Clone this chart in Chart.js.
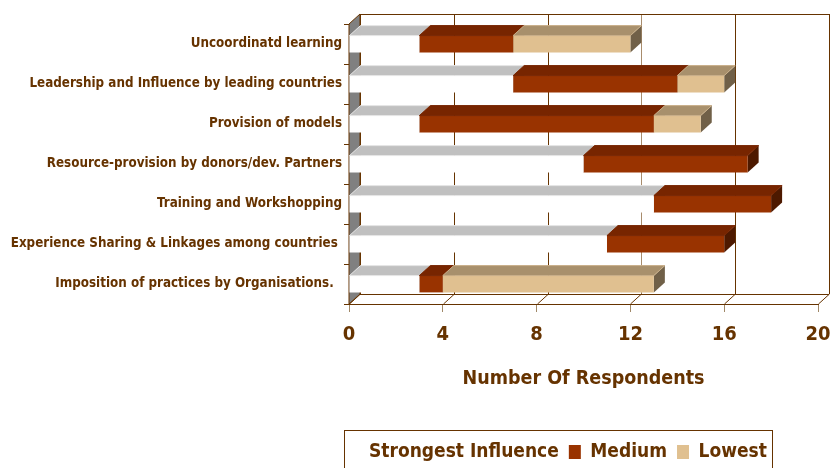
<!DOCTYPE html>
<html>
<head>
<meta charset="utf-8">
<script src="https://cdn.jsdelivr.net/npm/chart.js@4.4.1/dist/chart.umd.min.js"></script>
<style>
  html, body { margin: 0; padding: 0; background: #fff; }
</style>
</head>
<body>
<canvas id="chart" width="830" height="468"></canvas>
<script>
const categories = [
    'Uncoordinatd learning',
    'Leadership and Influence by leading countries',
    'Provision of models',
    'Resource-provision by donors/dev. Partners',
    'Training and Workshopping',
    'Experience Sharing & Linkages among countries ',
    'Imposition of practices by Organisations.  '
];
const strongest = [3, 7, 3, 10, 13, 11, 3];
const medium = [4, 7, 10, 7, 5, 5, 1];
const lowest = [5, 2, 2, 0, 0, 0, 9];
const xTicks = [0, 4, 8, 12, 16, 20];

const brown = '#663300';
const family = "'Liberation Sans Narrow', 'Arial Narrow', 'DejaVu Sans Condensed', sans-serif";
const depthX = 11;
const depthY = 10;

// top / side shading of each series (front colour is the dataset colour)
const faces = [
    { top: '#c0c0c0', side: '#a0a0a0', edge: '#e6e6e6' },
    { top: '#772500', side: '#4d1900', edge: '#772500' },
    { top: '#a8906c', side: '#706048', edge: '#c8ae88' }
];

function quad(ctx, pts) {
    ctx.beginPath();
    ctx.moveTo(pts[0][0], pts[0][1]);
    for (let i = 1; i < pts.length; i++) ctx.lineTo(pts[i][0], pts[i][1]);
    ctx.closePath();
}

function eachBar(chart, fn) {
    chart.data.datasets.forEach((ds, i) => {
        chart.getDatasetMeta(i).data.forEach((bar, j) => {
            if (!ds.data[j]) return;
            const p = bar.getProps(['x', 'y', 'base', 'height'], true);
            fn(i, p.base, p.x, p.y - p.height / 2, p.y + p.height / 2);
        });
    });
}

const box3d = {
    id: 'box3d',
    afterLayout(chart) {
        const lg = chart.legend;
        lg.left = 337.5;
        lg.right = 830;
        lg.top = 432.5;
        lg.bottom = 468;
        lg.width = lg.right - lg.left;
        lg.height = lg.bottom - lg.top;
    },
    beforeDatasetsDraw(chart) {
        const ctx = chart.ctx;
        const a = chart.chartArea;
        const xs = chart.scales.x;
        ctx.save();
        ctx.lineWidth = 1;

        // left wall
        ctx.fillStyle = '#808080';
        quad(ctx, [[a.left, a.top], [a.left + depthX, a.top - depthY], [a.left + depthX, a.bottom - depthY], [a.left, a.bottom]]);
        ctx.fill();
        ctx.strokeStyle = brown;
        ctx.stroke();

        // back wall grid + floor lines
        xTicks.forEach(v => {
            const px = Math.round(xs.getPixelForValue(v)) + 0.5;
            ctx.strokeStyle = v === 12 ? '#a88c6c' : brown;
            ctx.beginPath();
            ctx.moveTo(px + depthX, a.top - depthY);
            ctx.lineTo(px + depthX, a.bottom - depthY);
            ctx.stroke();
            ctx.strokeStyle = brown;
            ctx.beginPath();
            ctx.moveTo(px + depthX, a.bottom - depthY);
            ctx.lineTo(px, a.bottom);
            ctx.stroke();
        });
        ctx.strokeStyle = brown;
        ctx.beginPath();
        ctx.moveTo(a.left + depthX, a.top - depthY + 0.5);
        ctx.lineTo(a.right + depthX, a.top - depthY + 0.5);
        ctx.moveTo(a.left + depthX, a.bottom - depthY + 0.5);
        ctx.lineTo(a.right + depthX, a.bottom - depthY + 0.5);
        ctx.stroke();

        // right faces of the bars
        eachBar(chart, (i, x0, x1, t, b) => {
            ctx.fillStyle = faces[i].side;
            quad(ctx, [[x1, t], [x1 + depthX, t - depthY], [x1 + depthX, b - depthY], [x1, b]]);
            ctx.fill();
        });
        ctx.restore();
    },
    afterDatasetsDraw(chart) {
        const ctx = chart.ctx;
        ctx.save();
        ctx.lineWidth = 1;
        eachBar(chart, (i, x0, x1, t, b) => {
            ctx.fillStyle = faces[i].top;
            ctx.strokeStyle = faces[i].edge;
            quad(ctx, [[x0, t], [x0 + depthX, t - depthY], [x1 + depthX, t - depthY], [x1, t]]);
            ctx.fill();
            ctx.stroke();
        });
        ctx.restore();
    },
    afterDraw(chart) {
        const ctx = chart.ctx;
        ctx.save();
        ctx.strokeStyle = brown;
        ctx.lineWidth = 1;
        ctx.strokeRect(344.5, 430.5, 428, 60);
        ctx.restore();
    }
};

new Chart(document.getElementById('chart'), {
    type: 'bar',
    data: {
        labels: categories,
        datasets: [
            { label: 'Strongest Influence', data: strongest, backgroundColor: '#ffffff' },
            { label: 'Medium', data: medium, backgroundColor: '#993300' },
            { label: 'Lowest', data: lowest, backgroundColor: '#e0c090' }
        ]
    },
    options: {
        indexAxis: 'y',
        responsive: false,
        animation: false,
        datasets: {
            bar: { barPercentage: 1, categoryPercentage: 0.42, borderWidth: 0 }
        },
        layout: { padding: { left: 0, right: 12, top: 24, bottom: 38 } },
        scales: {
            x: {
                stacked: true,
                min: 0,
                max: 20,
                ticks: { stepSize: 4, color: brown, padding: 11, font: { family: family, size: 20, weight: 'bold' } },
                grid: { display: true, drawOnChartArea: false, drawTicks: true, tickLength: 8, color: '#a08868' },
                border: { display: true, color: brown },
                title: {
                    display: true,
                    text: 'Number Of Respondents',
                    color: brown,
                    padding: 0,
                    font: { family: family, size: 19.5, weight: 'bold' }
                },
                afterFit: s => {
                    s.height = 87;
                    s.paddingLeft = 0;
                    s.paddingRight = 0;
                }
            },
            y: {
                stacked: true,
                ticks: { color: brown, padding: 2, autoSkip: false, font: { family: family, size: 13.3, weight: 'bold' } },
                grid: { display: true, drawOnChartArea: false, tickLength: 5, color: brown },
                border: { display: true, color: brown },
                afterFit: s => { s.width = 349; }
            }
        },
        plugins: {
            legend: {
                position: 'bottom',
                align: 'start',
                labels: {
                    boxWidth: 12,
                    boxHeight: 14,
                    padding: 10,
                    color: brown,
                    font: { family: family, size: 19, weight: 'bold' }
                }
            },
            tooltip: { enabled: false }
        }
    },
    plugins: [box3d]
});
</script>
</body>
</html>
